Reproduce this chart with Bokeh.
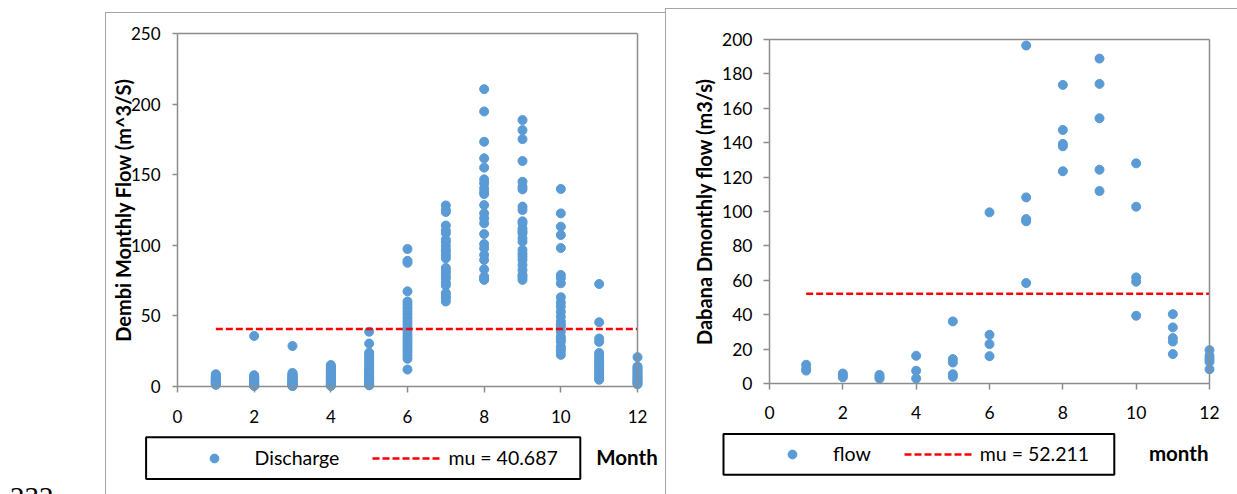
from bokeh.plotting import figure
from bokeh.models import (Range1d, Legend, LegendItem, BoxAnnotation, Label,
                          Div, FixedTicker, LinearAxis)
from bokeh.layouts import row
from bokeh.embed import file_html
from bokeh.resources import INLINE

# ---------------- data: Dembi (left chart) ----------------
dembi_m01 = [8.7, 8.0, 7.4, 7.0, 6.6, 6.2, 5.9, 5.6, 5.3, 5.0, 4.8, 4.5, 4.3, 4.0, 3.8, 3.5, 3.3, 3.0, 2.7, 2.4, 2.1, 1.8, 1.5, 1.2]
dembi_m02 = [35.8, 8.0, 7.3, 6.7, 6.2, 5.8, 5.4, 5.0, 4.7, 4.4, 4.1, 3.8, 3.5, 3.2, 2.9, 2.6, 2.3, 2.0, 1.7, 1.4, 1.1, 0.8, 0.6, 0.4]
dembi_m03 = [28.7, 9.6, 9.0, 8.4, 7.8, 7.3, 6.8, 6.3, 5.8, 5.4, 5.0, 4.6, 4.2, 3.8, 3.4, 3.0, 2.6, 2.2, 1.8, 1.4, 1.1, 0.8, 0.5, 0.3]
dembi_m04 = [15.2, 14.4, 13.6, 12.8, 12.0, 11.2, 10.4, 9.6, 8.8, 8.0, 7.3, 6.6, 6.0, 5.4, 4.8, 4.2, 3.6, 3.0, 2.5, 2.0, 1.5, 1.1, 0.7, 0.4]
dembi_m05 = [38.8, 30.4, 24.0, 22.5, 21.0, 19.5, 18.0, 16.5, 15.0, 13.5, 12.0, 10.8, 9.6, 8.4, 7.2, 6.2, 5.2, 4.4, 3.6, 2.8, 2.2, 1.6, 1.2, 0.8]
dembi_m06 = [97.4, 89.0, 87.6, 67.4, 60.2, 58.0, 55.6, 53.2, 51.0, 48.6, 46.2, 44.0, 41.8, 39.6, 37.4, 35.2, 33.0, 30.8, 28.6, 26.4, 24.2, 22.0, 19.6, 12.0]
dembi_m07 = [128.2, 125.0, 123.6, 114.0, 110.4, 108.6, 104.0, 102.4, 99.6, 97.0, 95.4, 93.0, 90.8, 84.0, 82.0, 80.2, 78.0, 76.4, 73.4, 71.6, 66.2, 64.0, 62.4, 60.2]
dembi_m08 = [210.6, 194.8, 173.3, 161.6, 155.0, 146.7, 143.9, 140.3, 138.0, 136.3, 128.5, 122.6, 119.1, 115.6, 108.0, 100.9, 97.9, 93.2, 89.6, 83.0, 77.8, 76.5, 75.5]
dembi_m09 = [188.7, 181.6, 175.2, 159.7, 145.0, 141.5, 139.6, 127.4, 125.0, 117.0, 115.6, 112.0, 110.0, 108.5, 105.0, 102.6, 96.7, 94.0, 92.0, 89.6, 86.0, 82.5, 79.0, 77.5, 75.5]
dembi_m10 = [139.9, 122.6, 113.2, 107.3, 98.1, 79.0, 76.7, 73.1, 63.2, 59.5, 56.6, 53.0, 49.5, 46.0, 44.0, 42.5, 38.9, 35.4, 33.5, 31.8, 28.3, 26.5, 24.8, 22.4]
dembi_m11 = [72.6, 45.5, 34.0, 31.6, 23.8, 22.0, 20.2, 18.6, 17.0, 15.4, 13.8, 12.2, 10.6, 9.0, 7.4, 5.8, 4.8]
dembi_m12 = [20.8, 14.2, 13.2, 12.2, 11.2, 10.2, 9.2, 8.2, 7.2, 6.3, 5.4, 4.5, 3.7, 2.9, 2.2, 1.5]
dembi_mu = 40.687

# ---------------- data: Dabana (right chart) ----------------
dabana_m01 = [10.9, 8.5, 7.5]
dabana_m02 = [5.8, 4.8, 3.6]
dabana_m03 = [5.0, 3.8, 2.8]
dabana_m04 = [16.1, 7.4, 2.9]
dabana_m05 = [36.1, 14.2, 12.2, 5.4, 3.9]
dabana_m06 = [99.5, 28.3, 22.9, 15.9]
dabana_m07 = [196.5, 108.2, 95.6, 94.3, 58.4]
dabana_m08 = [173.6, 147.4, 139.3, 137.9, 123.4]
dabana_m09 = [188.9, 174.2, 154.2, 124.3, 111.9]
dabana_m10 = [128.0, 102.8, 61.7, 59.2, 39.4]
dabana_m11 = [40.3, 32.6, 26.4, 24.4, 17.1]
dabana_m12 = [19.4, 16.1, 14.2, 12.6, 8.3]
dabana_mu = 52.211

x_ticks = [0, 2, 4, 6, 8, 10, 12]
dembi_y_ticks = [0, 50, 100, 150, 200, 250]
dabana_y_ticks = [0, 20, 40, 60, 80, 100, 120, 140, 160, 180, 200]

dembi_by_month = [dembi_m01, dembi_m02, dembi_m03, dembi_m04, dembi_m05, dembi_m06,
                  dembi_m07, dembi_m08, dembi_m09, dembi_m10, dembi_m11, dembi_m12]
dabana_by_month = [dabana_m01, dabana_m02, dabana_m03, dabana_m04, dabana_m05, dabana_m06,
                   dabana_m07, dabana_m08, dabana_m09, dabana_m10, dabana_m11, dabana_m12]

BLUE = "#5B9BD5"
AXIS_GRAY = "#8c8c8c"
FRAME_GRAY = "#a6a6a6"
FONT = "Lato"
X_MAX = 12


def flatten(by_month):
    xs, ys = [], []
    for m, vals in enumerate(by_month, start=1):
        for v in vals:
            xs.append(m)
            ys.append(v)
    return xs, ys


def border_axis(loc, bounds):
    return LinearAxis(fixed_location=loc, bounds=bounds, ticker=FixedTicker(ticks=[]),
                      major_tick_out=0, major_tick_in=0, minor_tick_out=0, minor_tick_in=0,
                      axis_line_color=AXIS_GRAY, axis_line_width=1.5,
                      major_label_text_font_size="0px")


def make_chart(by_month, mu, y_max, y_ticks, g, texts):
    xs, ys = flatten(by_month)
    # page-pixel geometry -> data ranges, so the whole figure is one frame
    fl, ft, fw, fh = g["fig"]
    pl, pt, pr, pb = g["plot"]
    sx = (pr - pl) / X_MAX
    sy = (pb - pt) / y_max

    def dx(X):
        return (X - pl) / sx

    def dy(Y):
        return (pb - Y) / sy

    p = figure(width=fw, height=fh, x_range=Range1d(dx(fl), dx(fl + fw)),
               y_range=Range1d(dy(ft + fh), dy(ft)),
               output_backend="svg", toolbar_location=None,
               min_border_left=0, min_border_right=0, min_border_top=0, min_border_bottom=0)
    p.margin = 0
    p.border_fill_alpha = 0
    p.background_fill_alpha = 0
    p.outline_line_color = None
    p.grid.visible = False
    o = g["doc_top"]
    p.styles = {"background":
                f"linear-gradient({FRAME_GRAY},{FRAME_GRAY}) 0px {o}px / 100% 1px no-repeat, "
                f"linear-gradient({FRAME_GRAY},{FRAME_GRAY}) 0px {o}px / 1px 100% no-repeat"}

    xa, ya = p.xaxis[0], p.yaxis[0]
    xa.fixed_location = 0
    ya.fixed_location = 0
    xa.bounds = (0, X_MAX)
    ya.bounds = (0, y_max)
    xa.ticker = FixedTicker(ticks=x_ticks)
    ya.ticker = FixedTicker(ticks=y_ticks)
    for ax in (xa, ya):
        ax.axis_line_color = AXIS_GRAY
        ax.axis_line_width = 1.5
        ax.major_tick_line_color = AXIS_GRAY
        ax.major_tick_line_width = 1.5
        ax.minor_tick_line_color = None
        ax.major_tick_in = 0
        ax.major_label_text_font = FONT
        ax.major_label_text_color = "black"
        ax.major_label_text_font_size = g["tick_fs"]
    xa.major_tick_out = 6
    ya.major_tick_out = g["ytick_out"]
    ya.major_label_standoff = g["ystand"]
    xa.major_label_standoff = g["xstand"]
    ya.axis_label = texts["ylabel"]
    ya.axis_label_text_font = FONT
    ya.axis_label_text_font_style = "bold"
    ya.axis_label_text_font_size = g["label_fs"]
    ya.axis_label_text_color = "black"
    ya.axis_label_standoff = g["lstand"]
    p.add_layout(border_axis(X_MAX, (0, y_max)), "right")
    p.add_layout(border_axis(y_max, (0, X_MAX)), "above")

    r_pts = p.scatter(xs, ys, marker="circle", size=9, fill_color=BLUE, line_color=BLUE)
    r_mu = p.line([min(xs), max(xs)], [mu, mu], line_color="red", line_width=2.5,
                  line_dash="7 3")

    L, R, T, B = g["box"]
    p.add_layout(BoxAnnotation(left=dx(L), right=dx(R), top=dy(T), bottom=dy(B),
                               fill_color="white", fill_alpha=1, line_color="black",
                               line_width=2, line_alpha=1))
    H = 23
    cy = (T + B) / 2
    leg = Legend(items=[LegendItem(label=texts["pts"], renderers=[r_pts]),
                        LegendItem(label=texts["mu"], renderers=[r_mu])],
                 orientation="horizontal",
                 location=(g["leg_x"] - fl, (ft + fh) - (cy + H / 2)),
                 glyph_width=70, glyph_height=22, label_height=22,
                 label_standoff=6, spacing=33, padding=0, margin=0,
                 border_line_alpha=0, background_fill_alpha=0,
                 label_text_font=FONT, label_text_font_size=g["leg_fs"],
                 label_text_color="black")
    p.add_layout(leg, "center")

    mx, my = g["xlab"]
    p.add_layout(Label(x=dx(mx), y=dy(my), text=texts["xlabel"], text_font=FONT,
                       text_font_style="bold", text_font_size=g["xlab_fs"],
                       text_color="black", text_align="center", text_baseline="middle"))
    return p


# layout geometry in page pixels: figure box, plot-area box, legend box, etc.
g1 = dict(fig=(105, 0, 560, 494), plot=(177, 33, 637, 386), doc_top=12,
          tick_fs="17px", label_fs="20px", ytick_out=5, ystand=12, xstand=17, lstand=-7,
          box=(145.6, 579.8, 436.7, 478.6), leg_x=178.6, leg_fs="19.5px",
          xlab=(626.5, 456.6), xlab_fs="20.5px")
g2 = dict(fig=(665, 0, 572, 494), plot=(769, 39, 1209, 383), doc_top=8,
          tick_fs="17.5px", label_fs="20px", ytick_out=6, ystand=11, xstand=16, lstand=3,
          box=(723.0, 1113.8, 433.4, 474.3), leg_x=757.0, leg_fs="19.5px",
          xlab=(1178.2, 452.7), xlab_fs="20.5px")

p1 = make_chart(dembi_by_month, dembi_mu, 250, dembi_y_ticks, g1,
                dict(ylabel="Dembi Monthly Flow (m^3/S)", pts="Discharge",
                     mu="mu = 40.687", xlabel="Month"))
p2 = make_chart(dabana_by_month, dabana_mu, 200, dabana_y_ticks, g2,
                dict(ylabel="Dabana Dmonthly flow (m3/s)", pts="flow",
                     mu="mu = 52.211", xlabel="month"))

page_num = Div(text='<div style="padding-top:481px;padding-left:10px;'
                    'font-family:\'Liberation Serif\';font-size:29px;line-height:32px;'
                    'color:#000;">232</div>',
               width=105, height=494, margin=0, styles={"overflow": "hidden"})

layout = row(page_num, p1, p2, spacing=0)

open("out.html", "w").write(file_html(layout, INLINE))
